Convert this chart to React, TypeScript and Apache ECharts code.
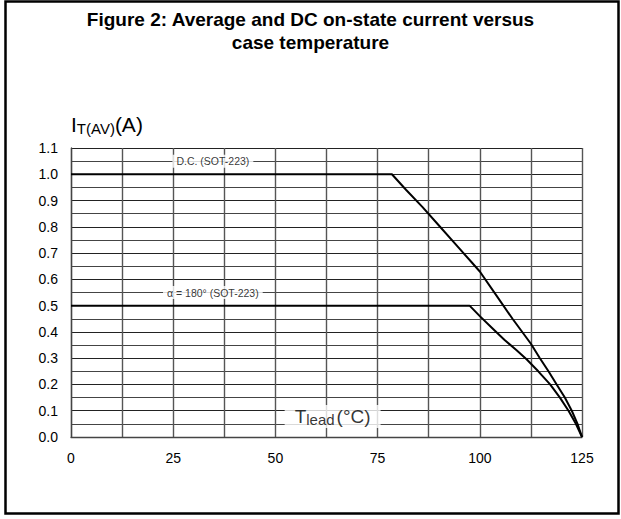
import React, { useEffect, useRef } from "react";
import * as echarts from "echarts";

const TITLE = "Figure 2: Average and DC on-state current versus\ncase temperature";
const xTicks = [0, 25, 50, 75, 100, 125];
const yTickLabels = ["0.0", "0.1", "0.2", "0.3", "0.4", "0.5", "0.6", "0.7", "0.8", "0.9", "1.0", "1.1"];

const dcTemp = [0, 78.5, 82, 86, 90, 94, 98, 100, 104, 108, 112.5, 114.7, 116.8, 118.8, 120.8, 122.5, 123.9, 125];
const dcCurrent = [1.0, 1.0, 0.94, 0.875, 0.805, 0.735, 0.665, 0.63, 0.54, 0.45, 0.355, 0.3, 0.25, 0.2, 0.15, 0.1, 0.05, 0];

const acTemp = [0, 97.5, 100, 103, 106, 109, 111.5, 114.3, 117.2, 119.6, 121.7, 123.5, 125];
const acCurrent = [0.5, 0.5, 0.46, 0.415, 0.37, 0.33, 0.295, 0.25, 0.2, 0.15, 0.1, 0.05, 0];

const notes = [
  { name: "D.C. (SOT-223)", x: 34.7, y: 1.05 },
  { name: "α = 180° (SOT-223)", x: 34.7, y: 0.55 },
];
const axisNote = { x: 64, y: 0.078 };

const FONT = "'Liberation Sans', Arial, sans-serif";

export default function App() {
  const ref = useRef<HTMLDivElement>(null);
  useEffect(() => {
    if (!ref.current) return;
    const chart = echarts.init(ref.current, undefined, { renderer: "svg" });
    const pair = (xs: number[], ys: number[]) => xs.map((x, i) => [x, ys[i]]);
    chart.setOption({
      animation: false,
      backgroundColor: "#fff",
      textStyle: { fontFamily: FONT },
      title: {
        text: TITLE,
        left: "center",
        top: 3,
        textStyle: { fontFamily: FONT, fontSize: 19, fontWeight: "bold", color: "#000", lineHeight: 23 },
      },
      graphic: [
        {
          type: "rect",
          shape: { x: 5.5, y: 1.5, width: 613, height: 512 },
          style: { fill: "none", stroke: "#000", lineWidth: 2.5 },
          z: 100,
        },
      ],
      grid: { left: 71, right: 39, top: 148, bottom: 82 },
      xAxis: {
        type: "value",
        min: 0,
        max: 125,
        interval: 25,
        axisLine: { show: true, lineStyle: { color: "#444", width: 1.3 } },
        axisTick: { show: false },
        axisLabel: {
          color: "#000",
          fontSize: 14,
          fontFamily: FONT,
          margin: 14,
          formatter: (v: number) => (xTicks.includes(v) ? String(v) : ""),
        },
        splitLine: { show: true, lineStyle: { color: "#555", width: 1.4 } },
        minorTick: { show: false, splitNumber: 2 },
        minorSplitLine: { show: true, lineStyle: { color: "#555", width: 1.4 } },
      },
      yAxis: {
        type: "value",
        min: 0,
        max: 1.1,
        interval: 0.1,
        name: "{a|I}{b|T(AV)}{a|(A)}",
        nameLocation: "end",
        nameGap: 12,
        nameTextStyle: {
          align: "left",
          verticalAlign: "bottom",
          rich: {
            a: { fontFamily: FONT, fontSize: 21, color: "#000", lineHeight: 22, verticalAlign: "top" },
            b: { fontFamily: FONT, fontSize: 15, color: "#000", lineHeight: 15, padding: [10, 0, 0, 0], verticalAlign: "bottom" },
          },
        },
        axisLine: { show: true, lineStyle: { color: "#444", width: 1.3 } },
        axisTick: { show: false },
        axisLabel: {
          color: "#000",
          fontSize: 14,
          fontFamily: FONT,
          margin: 13,
          formatter: (v: number) => yTickLabels[Math.round(v * 10)] ?? "",
        },
        splitLine: { show: true, lineStyle: { color: "#222", width: 1 } },
        minorTick: { show: false, splitNumber: 2 },
        minorSplitLine: { show: true, lineStyle: { color: "#444", width: 1.2 } },
      },
      series: [
        {
          type: "line",
          name: "D.C. (SOT-223)",
          data: pair(dcTemp, dcCurrent),
          symbol: "none",
          lineStyle: { color: "#000", width: 2 },
          z: 5,
        },
        {
          type: "line",
          name: "α = 180° (SOT-223)",
          data: pair(acTemp, acCurrent),
          symbol: "none",
          lineStyle: { color: "#000", width: 2 },
          z: 5,
        },
        {
          type: "scatter",
          symbolSize: 0,
          z: 6,
          data: notes.map((n) => ({ value: [n.x, n.y], name: n.name })),
          label: {
            show: true,
            position: "inside",
            formatter: (p: any) => p.name,
            fontFamily: FONT,
            fontSize: 10.5,
            color: "#000",
            backgroundColor: "#fff",
            padding: [1, 4, 1, 4],
          },
        },
        {
          type: "scatter",
          symbolSize: 0,
          z: 6,
          data: [{ value: [axisNote.x, axisNote.y], name: "T" }],
          label: {
            show: true,
            position: "inside",
            formatter: "{a|T}{b|lead}{a|(°C)}",
            backgroundColor: "#fff",
            padding: [2, 10, 1, 10],
            rich: {
              a: { fontFamily: FONT, fontSize: 19, color: "#000", lineHeight: 20, verticalAlign: "top" },
              b: { fontFamily: FONT, fontSize: 15, color: "#000", lineHeight: 15, padding: [9, 2, 0, 0], verticalAlign: "bottom" },
            },
          },
        },
      ],
    });
    return () => chart.dispose();
  }, []);
  return <div ref={ref} style={{ position: "fixed", left: 0, top: 0, width: 621, height: 519 }} />;
}
